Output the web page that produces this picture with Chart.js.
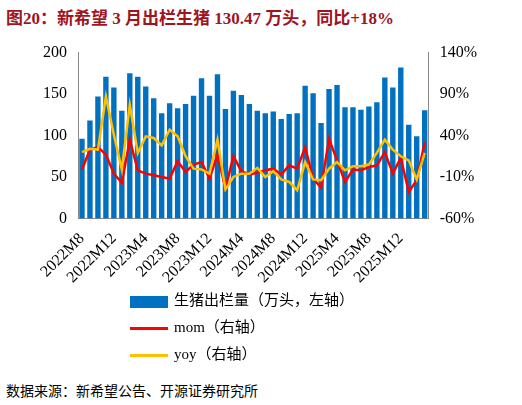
<!DOCTYPE html>
<html><head><meta charset="utf-8">
<script src="https://cdn.jsdelivr.net/npm/chart.js@4"></script>
<style>
body{margin:0;width:522px;height:405px;background:#fff;font-family:"Liberation Serif","Noto Sans CJK SC",serif;position:relative}
#title{position:absolute;left:6px;top:4px;font:bold 17px "Liberation Serif","Noto Sans CJK SC";color:#A0141E}
#c{position:absolute;left:0;top:40px}
.lg{position:absolute;left:130px;font-size:15px;color:#000;font-family:"Liberation Serif","Noto Sans CJK SC"}
.sw{display:inline-block;vertical-align:middle;margin-right:6px}
#src{position:absolute;left:6px;top:380px;font-size:14px;font-family:"Noto Sans CJK SC"}
</style></head><body>
<div id="title">图20：新希望 3 月出栏生猪 130.47 万头，同比+18%</div>
<canvas id="c" width="480" height="250"></canvas>
<div class="lg" style="top:288px"><span class="sw" style="width:38px;height:12px;background:#0070C0"></span>生猪出栏量（万头，左轴）</div>
<div class="lg" style="top:315px"><span class="sw" style="width:38px;height:3px;background:#FF0000"></span>mom（右轴）</div>
<div class="lg" style="top:342px"><span class="sw" style="width:38px;height:3px;background:#FFC000"></span>yoy（右轴）</div>
<div id="src">数据来源：新希望公告、开源证券研究所</div>
<script>
const labels = [];
for (let i = 0; i < 44; i++) {
  const m = 8 + i, y = 2022 + Math.floor((m - 1) / 12);
  labels.push(y + "M" + ((m - 1) % 12 + 1));
}
const volume = [96,118,147,171,158,130,175,171,159,145,127,139,133,138,148,169,148,174,132,154,149,138,130,127,129,120,126,127,160,151,115,156,161,134,134,131,135,140,170,158,182,113,99,130.47];
const mom = [-1,23,26,17,-6,-17,35,-2,-6,-8,-10,-12,9,-4,5,8,-12,17,-24,15,-3,-7,-5,-2,0,-7,4,0,26,-12,-23,36,10,-16,-1,-2,2,4,20,-6,13,-28,-14,32];
const yoy = [20,24,23,87,41,-1,77,19,39,37,28,47,39,15,0,-1,-6,35,-25,-10,-6,-6,1,-10,-3,-13,-16,-26,8,-13,-14,0,8,-2,3,3,5,19,35,23,15,10,-13,19];

const tickFont = { family: "Liberation Serif", size: 16 };
new Chart(document.getElementById("c"), {
  data: {
    labels,
    datasets: [
      { type: "line", data: mom, yAxisID: "y2", borderColor: "#FF0000", borderWidth: 2.5, pointRadius: 0, order: 1 },
      { type: "line", data: yoy, yAxisID: "y2", borderColor: "#FFC000", borderWidth: 2.5, pointRadius: 0, order: 0 },
      { type: "bar", data: volume, yAxisID: "y", backgroundColor: "#0070C0", categoryPercentage: 0.9, barPercentage: 0.75, order: 2 }
    ]
  },
  options: {
    responsive: false, animation: false,
    layout: { padding: { left: 40, right: 0, top: 12 } },
    plugins: { legend: { display: false }, tooltip: { enabled: false } },
    scales: {
      x: {
        grid: { display: false }, border: { color: "#888" },
        ticks: { font: tickFont, color: "#000", maxRotation: 45, minRotation: 45, autoSkip: false,
          callback: (v, i) => i % 4 === 0 ? labels[i] : "" }
      },
      y: {
        min: 0, max: 200, grid: { display: false }, border: { color: "#888" },
        ticks: { stepSize: 50, font: tickFont, color: "#000" }
      },
      y2: {
        position: "right", min: -60, max: 140, grid: { display: false }, border: { color: "#888" },
        ticks: { stepSize: 50, font: tickFont, color: "#000", callback: v => v + "%" }
      }
    }
  }
});
</script>
</body></html>
